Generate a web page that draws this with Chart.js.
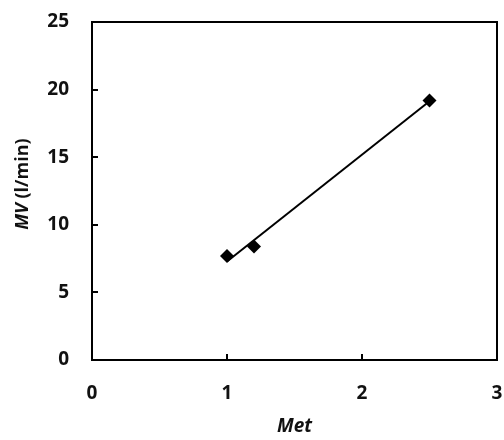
<!DOCTYPE html>
<html>
<head>
<meta charset="utf-8">
<script src="https://cdn.jsdelivr.net/npm/chart.js@4.4.1/dist/chart.umd.min.js"></script>
<style>
  html, body { margin: 0; padding: 0; background: #fff; }
  #wrap { width: 504px; height: 440px; }
</style>
</head>
<body>
<div id="wrap"><canvas id="c" width="504" height="440"></canvas></div>
<script>
// Measured values: metabolic rate vs minute ventilation
const metValues = [1.0, 1.2, 2.5];
const mvValues = [7.7, 8.4, 19.2];
const xTicks = [0, 1, 2, 3];
const yTicks = [0, 5, 10, 15, 20, 25];

// least-squares fit for the trend line
function linearFit(xs, ys) {
  const n = xs.length;
  const mx = xs.reduce((a, b) => a + b, 0) / n;
  const my = ys.reduce((a, b) => a + b, 0) / n;
  let sxy = 0, sxx = 0;
  for (let i = 0; i < n; i++) {
    sxy += (xs[i] - mx) * (ys[i] - my);
    sxx += (xs[i] - mx) * (xs[i] - mx);
  }
  const slope = sxy / sxx;
  return { slope, intercept: my - slope * mx };
}
const fit = linearFit(metValues, mvValues);
const xMin = Math.min(...metValues), xMax = Math.max(...metValues);
const trend = [xMin, xMax].map(x => ({ x, y: fit.slope * x + fit.intercept }));

const FONT = '"Open Sans", Lato, sans-serif';

// frame, inward tick marks and axis titles
const framePlugin = {
  id: 'frame',
  afterDraw(chart) {
    const { ctx, chartArea: a, scales } = chart;
    ctx.save();
    ctx.strokeStyle = '#000';
    ctx.lineWidth = 2;
    ctx.strokeRect(a.left, a.top, a.right - a.left, a.bottom - a.top);
    ctx.beginPath();
    yTicks.forEach(v => {
      if (v === yTicks[0] || v === yTicks[yTicks.length - 1]) return;
      const y = Math.round(scales.y.getPixelForValue(v));
      ctx.moveTo(a.left, y);
      ctx.lineTo(a.left + 6, y);
    });
    xTicks.forEach(v => {
      if (v === xTicks[0] || v === xTicks[xTicks.length - 1]) return;
      const x = Math.round(scales.x.getPixelForValue(v));
      ctx.moveTo(x, a.bottom);
      ctx.lineTo(x, a.bottom - 6);
    });
    ctx.stroke();

    ctx.fillStyle = '#111';
    ctx.textBaseline = 'middle';
    // x title
    ctx.font = 'italic bold 19px ' + FONT;
    ctx.textAlign = 'center';
    ctx.fillText('Met', (a.left + a.right) / 2, 427);
    // y title: italic "MV" followed by upright unit
    ctx.translate(23, 184);
    ctx.rotate(-Math.PI / 2);
    const p1 = 'MV', p2 = ' (l/min)';
    ctx.font = 'italic bold 18px ' + FONT;
    const w1 = ctx.measureText(p1).width;
    ctx.font = 'bold 18px ' + FONT;
    const w2 = ctx.measureText(p2).width;
    const start = -(w1 + w2) / 2;
    ctx.textAlign = 'left';
    ctx.font = 'italic bold 18px ' + FONT;
    ctx.fillText(p1, start, 0);
    ctx.font = 'bold 18px ' + FONT;
    ctx.fillText(p2, start + w1, 0);
    ctx.restore();
  }
};

new Chart(document.getElementById('c'), {
  type: 'scatter',
  data: {
    datasets: [
      {
        label: 'MV',
        data: metValues.map((x, i) => ({ x, y: mvValues[i] })),
        pointStyle: 'rectRot',
        pointRadius: 7,
        pointHoverRadius: 7,
        backgroundColor: '#000',
        borderColor: '#000',
        borderWidth: 0,
        showLine: false,
        order: 1
      },
      {
        label: 'trend',
        data: trend,
        showLine: true,
        borderColor: '#000',
        borderWidth: 2,
        pointRadius: 0,
        fill: false,
        order: 2
      }
    ]
  },
  options: {
    responsive: false,
    animation: false,
    events: [],
    layout: { padding: { top: 22, right: 3, left: 0, bottom: 0 } },
    plugins: {
      legend: { display: false },
      tooltip: { enabled: false }
    },
    scales: {
      x: {
        type: 'linear',
        min: xTicks[0],
        max: xTicks[xTicks.length - 1],
        afterBuildTicks(s) { s.ticks = xTicks.map(v => ({ value: v })); },
        afterFit(s) { s.height = 80; s.paddingLeft = 0; s.paddingRight = 0; },
        grid: { display: false, drawTicks: false, tickLength: 0 },
        border: { display: false },
        ticks: {
          padding: 22,
          color: '#111',
          font: { family: FONT, size: 19, weight: 'bold' },
          maxRotation: 0
        }
      },
      y: {
        type: 'linear',
        min: yTicks[0],
        max: yTicks[yTicks.length - 1],
        afterBuildTicks(s) { s.ticks = yTicks.map(v => ({ value: v })); },
        afterFit(s) { s.width = 92; s.paddingTop = 0; s.paddingBottom = 0; },
        grid: { display: false, drawTicks: false, tickLength: 0 },
        border: { display: false },
        ticks: {
          padding: 23,
          color: '#111',
          font: { family: FONT, size: 19, weight: 'bold' }
        }
      }
    }
  },
  plugins: [framePlugin]
});
</script>
</body>
</html>
